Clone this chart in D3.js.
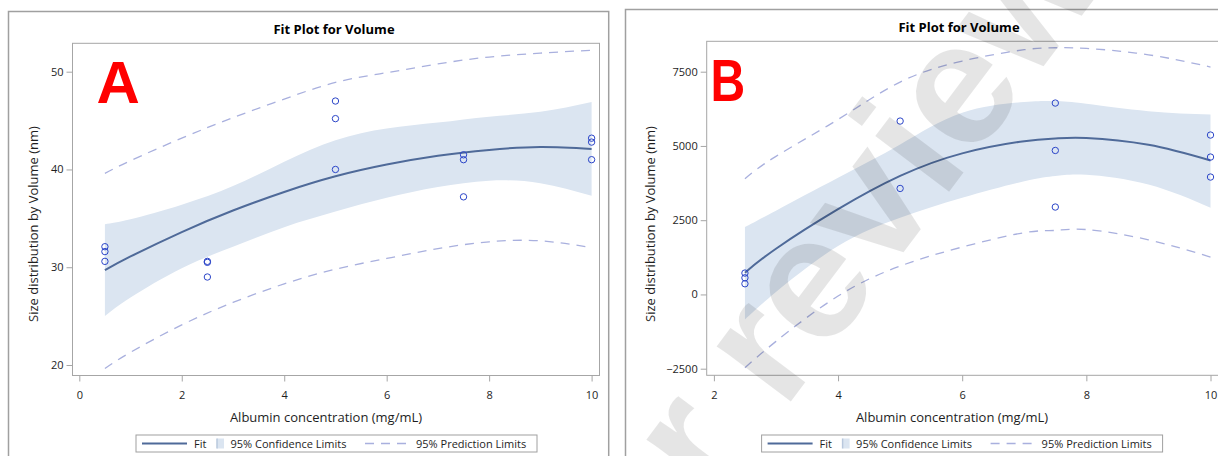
<!DOCTYPE html>
<html>
<head>
<meta charset="utf-8">
<script src="https://cdn.jsdelivr.net/npm/d3@7"></script>
<style>
  html, body { margin: 0; padding: 0; background: #fff; }
  svg { display: block; font-family: "Open Sans", "DejaVu Sans", sans-serif; }
</style>
</head>
<body>
<svg id="fig" width="1218" height="456"></svg>
<script>
// ---------- Panel A: observations ----------
const concA = [0.5, 0.5, 0.5, 2.5, 2.5, 2.5, 5, 5, 5, 7.5, 7.5, 7.5, 10, 10, 10];
const sizeA = [32.1, 31.6, 30.6, 30.6, 30.5, 29.0, 47.0, 45.2, 40.0, 41.5, 41.0, 37.2, 43.2, 42.8, 41.0];

// Panel A: fitted curve and limits
const gridA      = [0.5, 1, 2, 3, 4, 5, 6, 7, 8, 9, 10];
const fitA       = [29.7, 31.1, 33.6, 35.8, 37.7, 39.3, 40.5, 41.4, 42.0, 42.3, 42.1];
const clmUpperA  = [34.4, 34.9, 36.4, 38.3, 40.8, 43.0, 44.2, 44.8, 45.4, 45.9, 46.9];
const clmLowerA  = [25.0, 26.9, 29.9, 32.1, 34.1, 35.7, 37.1, 38.2, 38.85, 38.6, 37.3];
const plmUpperA  = [39.6, 40.9, 43.2, 45.3, 47.2, 48.9, 49.9, 50.8, 51.5, 51.9, 52.2];
const plmLowerA  = [19.65, 21.3, 24.1, 26.4, 28.3, 29.8, 30.9, 31.9, 32.6, 32.7, 32.0];

const xTicksA = [0, 2, 4, 6, 8, 10];
const yTicksA = [20, 30, 40, 50];

// ---------- Panel B: observations ----------
const concB = [2.5, 2.5, 2.5, 5, 5, 7.5, 7.5, 7.5, 10, 10, 10];
const sizeB = [720, 560, 360, 5838, 3569, 6444, 4848, 2943, 5367, 4626, 3953];

// Panel B: fitted curve and limits
const gridB      = [2.5, 3, 4, 5, 6, 7, 7.5, 8, 9, 10];
const fitB       = [730, 1540, 2870, 3990, 4750, 5160, 5253, 5270, 5040, 4512];
const clmUpperB  = [2269, 2822, 3929, 5050, 6118, 6480, 6511, 6420, 6170, 6061];
const clmLowerB  = [-842, 80, 1630, 2582, 3256, 3812, 3986, 4030, 3700, 2919];
const plmUpperB  = [3896, 4650, 5892, 7151, 7859, 8240, 8306, 8285, 8070, 7657];
const plmLowerB  = [-2468, -1580, -54, 956, 1596, 2080, 2155, 2185, 1840, 1259];

const xTicksB = [2, 4, 6, 8, 10];
const yTicksB = [-2500, 0, 2500, 5000, 7500];

// ---------- Shared text ----------
const plotTitle = "Fit Plot for Volume";
const xTitle = "Albumin concentration (mg/mL)";
const yTitle = "Size distribution by Volume (nm)";
const legendLabels = ["Fit", "95% Confidence Limits", "95% Prediction Limits"];
const panelLetters = ["A", "B"];
const watermarkText = "For review";

// ---------- Styles ----------
const C = {
  frame: "#a6a6a6",
  outer: "#a0a0a0",
  text: "#1e1e1e",
  fit: "#4f6a99",
  band: "#dbe5f1",
  pred: "#a9b0de",
  point: "#2b45c8",
  letter: "#ff0000"
};

const svg = d3.select("#fig");
svg.append("rect").attr("width", 1218).attr("height", 456).attr("fill", "#fff");

function drawPanel(p) {
  const g = svg.append("g");

  // outer panel border
  g.append("rect")
    .attr("x", p.outer[0]).attr("y", p.outer[1])
    .attr("width", p.outer[2]).attr("height", p.outer[3])
    .attr("fill", "none").attr("stroke", C.outer).attr("stroke-width", 1.5);

  const x = d3.scaleLinear().domain(d3.extent(p.xTicks)).range(p.xRange);
  const y = d3.scaleLinear().domain(d3.extent(p.yTicks)).range(p.yRange);

  const f = p.frame;
  const clipId = "clip" + p.id;
  svg.append("defs").append("clipPath").attr("id", clipId)
    .append("rect").attr("x", f.x0).attr("y", f.y0)
    .attr("width", f.x1 - f.x0).attr("height", f.y1 - f.y0);

  const plot = g.append("g").attr("clip-path", `url(#${clipId})`);

  // confidence band
  const rows = p.grid.map((gx, i) => ({ x: gx, fit: p.fit[i], cu: p.clmU[i], cl: p.clmL[i], pu: p.plmU[i], pl: p.plmL[i] }));
  const area = d3.area().curve(d3.curveNatural)
    .x(d => x(d.x)).y0(d => y(d.cl)).y1(d => y(d.cu));
  plot.append("path").datum(rows).attr("d", area).attr("fill", C.band);

  // prediction limits
  ["pu", "pl"].forEach(k => {
    const line = d3.line().curve(d3.curveNatural).x(d => x(d.x)).y(d => y(d[k]));
    plot.append("path").datum(rows).attr("d", line)
      .attr("fill", "none").attr("stroke", C.pred).attr("stroke-width", 1.3)
      .attr("stroke-dasharray", "9,7");
  });

  // fit line
  const fitLine = d3.line().curve(d3.curveNatural).x(d => x(d.x)).y(d => y(d.fit));
  plot.append("path").datum(rows).attr("d", fitLine)
    .attr("fill", "none").attr("stroke", C.fit).attr("stroke-width", 2);

  // observations
  plot.selectAll("circle.obs").data(p.px.map((v, i) => [v, p.py[i]]))
    .join("circle").attr("class", "obs")
    .attr("cx", d => x(d[0])).attr("cy", d => y(d[1])).attr("r", 3.2)
    .attr("fill", "none").attr("stroke", C.point).attr("stroke-width", 1);

  // plot frame
  g.append("rect")
    .attr("x", f.x0).attr("y", f.y0).attr("width", f.x1 - f.x0).attr("height", f.y1 - f.y0)
    .attr("fill", "none").attr("stroke", C.frame).attr("stroke-width", 1);

  // axes
  const xAxis = g.append("g").attr("transform", `translate(0,${f.y1})`)
    .call(d3.axisBottom(x).tickValues(p.xTicks).tickSize(6).tickPadding(9.5).tickFormat(d3.format("d")));
  const yAxis = g.append("g").attr("transform", `translate(${f.x0},0)`)
    .call(d3.axisLeft(y).tickValues(p.yTicks).tickSize(6).tickPadding(3).tickFormat(d3.format("d")));
  [xAxis, yAxis].forEach(a => {
    a.select(".domain").remove();
    a.selectAll(".tick line").attr("stroke", C.frame);
    a.selectAll(".tick text").attr("fill", C.text)
      .style("font-family", '"Open Sans", sans-serif').style("font-size", "11px");
  });

  // titles
  g.append("text").attr("x", p.titleX).attr("y", p.titleY)
    .attr("text-anchor", "middle").attr("fill", "#000")
    .style("font-size", "13px").style("font-weight", "bold").text(plotTitle);
  g.append("text").attr("x", p.xTitleX).attr("y", 422)
    .attr("text-anchor", "middle").attr("fill", C.text)
    .style("font-size", "13px").text(xTitle);
  g.append("text")
    .attr("transform", `translate(${p.yTitleX},224) rotate(-90)`)
    .attr("text-anchor", "middle").attr("fill", C.text)
    .style("font-size", "13px").text(yTitle);

  // legend
  const lx = p.legendX, ly = 435;
  const lg = g.append("g").attr("transform", `translate(${lx},${ly})`);
  lg.append("rect").attr("x", 0).attr("y", 0).attr("width", 401).attr("height", 17)
    .attr("fill", "#fff").attr("stroke", C.outer).attr("stroke-width", 1);
  lg.append("line").attr("x1", 6).attr("x2", 51).attr("y1", 8.5).attr("y2", 8.5)
    .attr("stroke", C.fit).attr("stroke-width", 2);
  lg.append("rect").attr("x", 81).attr("y", 3.5).attr("width", 7).attr("height", 10).attr("fill", C.band);
  lg.append("line").attr("x1", 81).attr("x2", 81).attr("y1", 3.5).attr("y2", 13.5)
    .attr("stroke", "#b9c8dd").attr("stroke-width", 1.5);
  lg.append("line").attr("x1", 229).attr("x2", 273).attr("y1", 8.5).attr("y2", 8.5)
    .attr("stroke", C.pred).attr("stroke-width", 1.3).attr("stroke-dasharray", "9,7");
  [[58, legendLabels[0]], [94.5, legendLabels[1]], [280, legendLabels[2]]].forEach(([tx, t]) => {
    lg.append("text").attr("x", tx).attr("y", 12.5).attr("fill", C.text)
      .style("font-size", "11px").text(t);
  });

  // panel letter
  g.append("text")
    .attr("transform", `translate(${p.letterX},${p.letterY}) scale(${p.letterScale},1)`)
    .attr("fill", C.letter)
    .style("font-family", '"Liberation Sans", Arial, sans-serif')
    .style("font-weight", "bold").style("font-size", "60px")
    .text(p.letter);
}

drawPanel({
  id: "A", letter: panelLetters[0], letterX: 96.5, letterY: 103.3, letterScale: 1,
  outer: [8.5, 11.5, 600.2, 470],
  frame: { x0: 72.5, x1: 599.5, y0: 43.3, y1: 375.5 },
  xRange: [79.3, 591.6], yRange: [365, 71.7],
  xTicks: xTicksA, yTicks: yTicksA,
  grid: gridA, fit: fitA, clmU: clmUpperA, clmL: clmLowerA, plmU: plmUpperA, plmL: plmLowerA,
  px: concA, py: sizeA,
  titleX: 334, titleY: 34, xTitleX: 326, yTitleX: 38, legendX: 136
});

drawPanel({
  id: "B", letter: panelLetters[1], letterX: 710.5, letterY: 101.3, letterScale: 0.8,
  outer: [625.5, 9.5, 620, 470],
  frame: { x0: 706.7, x1: 1218.5, y0: 41.3, y1: 375.3 },
  xRange: [713.9, 1210.5], yRange: [368.7, 71.7],
  xTicks: xTicksB, yTicks: yTicksB,
  grid: gridB, fit: fitB, clmU: clmUpperB, clmL: clmLowerB, plmU: plmUpperB, plmL: plmLowerB,
  px: concB, py: sizeB,
  titleX: 959, titleY: 32, xTitleX: 952, yTitleX: 655, legendX: 761.6
});

// translucent diagonal watermark laid over the figure
svg.append("text")
  .attr("transform", "translate(584.7,675.3) rotate(-53)")
  .attr("text-anchor", "start")
  .attr("fill", "#000").attr("fill-opacity", 0.1)
  .style("font-family", '"Liberation Sans", Arial, sans-serif')
  .style("font-weight", "bold")
  .style("font-size", "175px")
  .text(watermarkText);
</script>
</body>
</html>
